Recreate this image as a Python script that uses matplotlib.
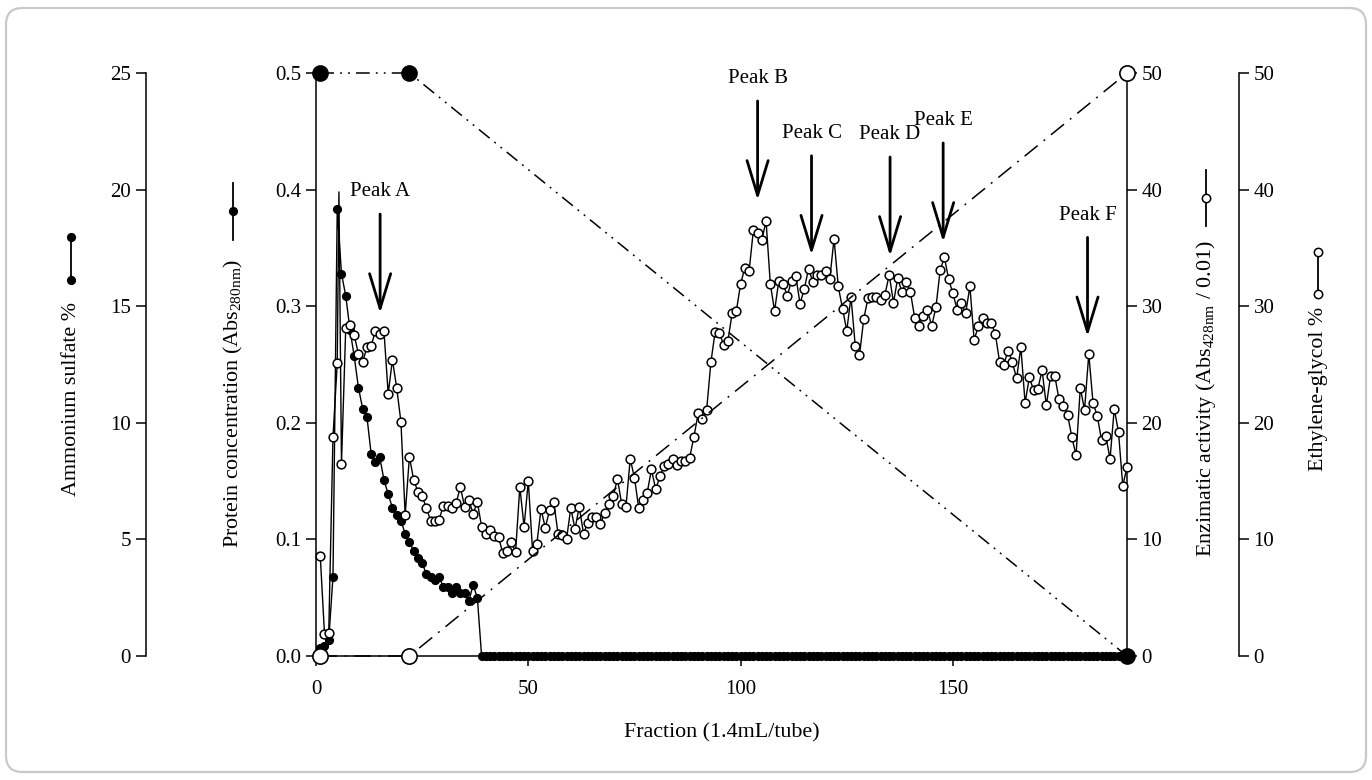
import numpy as np
import matplotlib.pyplot as plt
from matplotlib.lines import Line2D
from matplotlib.patches import FancyBboxPatch

plt.rcParams['font.family'] = 'Liberation Serif'
plt.rcParams['mathtext.fontset'] = 'custom'
plt.rcParams['mathtext.rm'] = 'Liberation Serif'

# protein (Abs280), fractions 1-38, zero afterwards
protein_head = [0.007, 0.009, 0.014, 0.068, 0.383, 0.328, 0.309, 0.280, 0.257, 0.230,
                0.212, 0.205, 0.173, 0.166, 0.171, 0.151, 0.139, 0.127, 0.121, 0.116,
                0.105, 0.098, 0.090, 0.084, 0.080, 0.070, 0.068, 0.065, 0.068, 0.059,
                0.059, 0.054, 0.059, 0.054, 0.054, 0.047, 0.061, 0.050]
n_frac = 191
protein_frac = np.arange(1, n_frac + 1)
protein = np.array(protein_head + [0.0] * (n_frac - len(protein_head)))

# enzymatic activity (Abs428 / 0.01), fractions 1-191
enzyme = [8.6, 1.9, 2.0, 18.8, 25.1, 16.5, 28.1, 28.4, 27.5, 25.9,
          25.2, 26.5, 26.6, 27.9, 27.6, 27.9, 22.5, 25.4, 23.0, 20.1,
          12.1, 17.1, 15.1, 14.1, 13.7, 12.7, 11.6, 11.6, 11.7, 12.9,
          12.9, 12.7, 13.1, 14.5, 12.8, 13.4, 12.2, 13.2, 11.1, 10.5,
          10.8, 10.3, 10.2, 8.8, 9.0, 9.8, 8.9, 14.5, 11.1, 15.0,
          9.0, 9.6, 12.6, 11.0, 12.5, 13.2, 10.5, 10.4, 10.0, 12.7,
          10.9, 12.8, 10.5, 11.4, 11.9, 11.9, 11.3, 12.3, 13.0, 13.7,
          15.2, 13.0, 12.8, 16.9, 15.3, 12.7, 13.4, 14.0, 16.0, 14.3,
          15.4, 16.3, 16.5, 16.9, 16.4, 16.7, 16.7, 17.0, 18.8, 20.8,
          20.3, 21.1, 25.2, 27.8, 27.7, 26.7, 27.0, 29.4, 29.6, 31.9,
          33.3, 33.0, 36.5, 36.3, 35.7, 37.3, 31.9, 29.6, 32.2, 31.9,
          30.9, 32.2, 32.6, 30.2, 31.5, 33.2, 32.1, 32.7, 32.7, 33.0,
          32.3, 35.8, 31.7, 29.8, 27.9, 30.8, 26.6, 25.8, 28.9, 30.7,
          30.8, 30.8, 30.5, 31.0, 32.7, 30.3, 32.4, 31.2, 32.1, 31.2,
          29.0, 28.3, 29.2, 29.7, 28.3, 29.9, 33.1, 34.2, 32.3, 31.1,
          29.7, 30.3, 29.4, 31.7, 27.1, 28.3, 29.0, 28.6, 28.6, 27.6,
          25.2, 25.0, 26.2, 25.2, 23.8, 26.5, 21.7, 23.9, 22.8, 22.9,
          24.5, 21.5, 24.0, 24.0, 22.0, 21.4, 20.7, 18.8, 17.2, 23.0,
          21.1, 25.9, 21.7, 20.6, 18.5, 18.9, 16.9, 21.2, 19.2, 14.6,
          16.2]
enzyme_frac = list(range(1, n_frac + 1))
# narrow spike after fraction 5 (line only, no marker)
spike_frac, spike_val = 5.4, 39.8

# step gradients
ammonium_frac = [1, 22, 191]
ammonium = [25, 25, 0]
glycol_frac = [1, 22, 191]
glycol = [0, 0, 50]

peak_names = ['Peak A', 'Peak B', 'Peak C', 'Peak D', 'Peak E', 'Peak F']
peak_frac = [15.1, 104.0, 116.7, 135.2, 147.7, 181.7]
peak_tip = [0.294, 0.391, 0.344, 0.343, 0.355, 0.274]

W, H = 1372, 780
fig = plt.figure(figsize=(W / 100, H / 100), dpi=100)
fig.patch.set_facecolor('white')
fig.patches.append(FancyBboxPatch((6 / W, 8 / H), 1 - 12 / W, 1 - 16 / H,
                                  boxstyle='round,pad=0,rounding_size=0.012',
                                  transform=fig.transFigure, fc='none',
                                  ec='#c9c9c9', lw=1.6, mutation_aspect=W / H))

ax = fig.add_axes([316 / W, 1 - 656 / H, (1127 - 316) / W, (656 - 73) / H])
ax_en = ax.twinx()
ax_am = ax.twinx()
ax_eg = ax.twinx()

fs = 15
tfs = 15.8
for a in (ax, ax_en, ax_am, ax_eg):
    for s in a.spines.values():
        s.set_visible(False)
        s.set_linewidth(1.1)
    a.tick_params(labelsize=fs, direction='out', length=7, width=1.1)
    a.set_xlim(0, 191)

ax.spines['left'].set_visible(True)
ax.spines['bottom'].set_visible(True)
ax_en.spines['right'].set_visible(True)
ax_am.spines['left'].set_visible(True)
ax_am.spines['left'].set_position(('axes', -0.21))
ax_am.yaxis.set_ticks_position('left')
ax_am.yaxis.set_label_position('left')
ax_eg.spines['right'].set_visible(True)
ax_eg.spines['right'].set_position(('axes', 1.138))

ax.set_ylim(0, 0.5)
ax.set_yticks(np.arange(0, 0.51, 0.1))
ax.set_yticklabels(['%.1f' % v for v in np.arange(0, 0.51, 0.1)])
ax.set_xticks([0, 50, 100, 150])
ax.tick_params(axis='x', pad=10)
ax_en.set_ylim(0, 50)
ax_en.set_yticks(range(0, 51, 10))
ax_am.set_ylim(0, 25)
ax_am.set_yticks(range(0, 26, 5))
ax_eg.set_ylim(0, 50)
ax_eg.set_yticks(range(0, 51, 10))

ax.set_xlabel('Fraction (1.4mL/tube)', fontsize=tfs, labelpad=18)

# data
ax.plot(protein_frac, protein, '-o', color='black', lw=1.0, ms=5.6,
        mfc='black', mec='black', clip_on=False, zorder=3)
ex = enzyme_frac[:5] + [spike_frac] + enzyme_frac[5:]
ey = enzyme[:5] + [spike_val] + enzyme[5:]
marks = [i for i in range(len(ex)) if i != 5]
ax_en.plot(ex, ey, '-o', color='black', lw=1.0, ms=6.3, mfc='white',
           mec='black', mew=1.1, markevery=marks, clip_on=False, zorder=3)
ax_am.plot(ammonium_frac, ammonium, color='black', lw=1.1,
           dashes=[9, 4, 1.2, 4, 1.2, 4], marker='o', ms=11, mfc='black',
           clip_on=False, zorder=4)
ax_eg.plot(glycol_frac, glycol, color='black', lw=1.1,
           dashes=[11, 5, 1.2, 5], marker='o', ms=11, mfc='white', mew=1.2,
           clip_on=False, zorder=4)

for name, xp, tip in zip(peak_names, peak_frac, peak_tip):
    ax.annotate('', xy=(xp, tip), xytext=(xp, tip + 0.085),
                arrowprops=dict(arrowstyle='->,head_length=1.25,head_width=0.38',
                                lw=2.0, color='black', shrinkA=0, shrinkB=0,
                                mutation_scale=20))
    ax.text(xp, tip + 0.096, name, ha='center', va='bottom', fontsize=fs)


# rotated axis titles with their little key glyphs
def key(xp, y0, y1, dots, filled, ms):
    fx = xp / W
    fig.add_artist(Line2D([fx, fx], [1 - y0 / H, 1 - y1 / H], color='black',
                          lw=1.3, transform=fig.transFigure))
    for yd in dots:
        fig.add_artist(Line2D([fx], [1 - yd / H], marker='o', ms=ms,
                              mfc='black' if filled else 'white', mec='black',
                              mew=1.1, transform=fig.transFigure))


def title(xp, ytop, text):
    fig.text(xp / W, 1 - ytop / H, text, rotation=90, ha='center', va='top',
             fontsize=tfs)


title(71, 302, 'Ammonium sulfate %')
key(71, 237, 280, [237, 280], True, 5.5)
title(233, 259, r'Protein concentration (Abs$_{\mathregular{280nm}}$)')
key(233, 183, 240, [211], True, 5.5)
title(1206, 240, r'Enzimatic activity (Abs$_{\mathregular{428nm}}$ / 0.01)')
key(1206, 170, 226, [198], False, 6)
title(1318, 307, 'Ethylene-glycol %')
key(1318, 252, 294, [252, 294], False, 6)

fig.savefig('out.png', dpi=100)
